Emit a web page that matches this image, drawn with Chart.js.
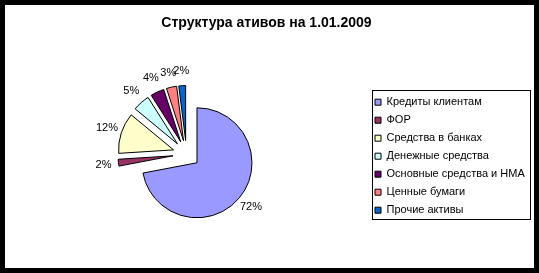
<!DOCTYPE html>
<html><head><meta charset="utf-8">
<script src="https://cdn.jsdelivr.net/npm/chart.js@4"></script>
<style>
html,body{margin:0;padding:0;background:#fff;}
#wrap{position:relative;width:539px;height:273px;overflow:hidden;}
#frame{position:absolute;left:0;top:0;width:539px;height:273px;box-sizing:border-box;border:5px solid #000;pointer-events:none;}
canvas{position:absolute;left:0;top:0;}
</style></head><body>
<div id="wrap"><canvas id="c" width="539" height="273"></canvas><div id="frame"></div></div>
<script>
const chartTitle = 'Структура ативов на 1.01.2009';
const categories = ['Кредиты клиентам', 'ФОР', 'Средства в банках', 'Денежные средства', 'Основные средства и НМА', 'Ценные бумаги', 'Прочие активы'];
const shares = [72, 2, 12, 5, 4, 3, 2];
const sliceColors = ['#9999FF', '#993366', '#FFFFCC', '#CCFFFF', '#660066', '#FF8080', '#0066CC'];

const FONT = '"Liberation Sans", Arial, sans-serif';

const explodePlugin = {
  id: 'explode',
  afterDatasetsUpdate(chart, args, opts) {
    const meta = chart.getDatasetMeta(0);
    const d = opts.distance || 0;
    meta.data.forEach(arc => {
      const mid = (arc.startAngle + arc.endAngle) / 2;
      arc.x = arc.x + Math.cos(mid) * d;
      arc.y = arc.y + Math.sin(mid) * d;
    });
  }
};

const legendShift = {
  id: 'legendShift',
  afterUpdate(chart, args, opts) {
    const lg = chart.legend;
    if (!lg) return;
    lg.top += opts.dy;
    lg.bottom += opts.dy;
    (lg.legendHitBoxes || []).forEach(h => { h.top += opts.dy; });
  }
};

const pctLabels = {
  id: 'pctLabels',
  afterDatasetsDraw(chart, args, opts) {
    const ctx = chart.ctx;
    const meta = chart.getDatasetMeta(0);
    const data = chart.data.datasets[0].data;
    const total = data.reduce((a, b) => a + b, 0);
    ctx.save();
    ctx.font = '11px ' + FONT;
    ctx.fillStyle = '#000';
    ctx.textAlign = 'center';
    ctx.textBaseline = 'middle';
    meta.data.forEach((arc, i) => {
      const mid = (arc.startAngle + arc.endAngle) / 2;
      const r = arc.outerRadius + opts.gap;
      ctx.fillText(Math.round(data[i] / total * 100) + '%', arc.x + Math.cos(mid) * r, arc.y + Math.sin(mid) * r);
    });
    ctx.restore();
  }
};

const legendFrame = {
  id: 'legendFrame',
  afterDraw(chart) {
    const lg = chart.legend;
    if (!lg || !lg.legendHitBoxes || !lg.legendHitBoxes.length) return;
    const hb = lg.legendHitBoxes;
    let l = Infinity, t = Infinity, r = -Infinity, b = -Infinity;
    hb.forEach(h => { l = Math.min(l, h.left); t = Math.min(t, h.top); r = Math.max(r, h.left + h.width); b = Math.max(b, h.top + h.height); });
    const ctx = chart.ctx;
    ctx.save();
    ctx.strokeStyle = '#000';
    ctx.lineWidth = 1;
    ctx.strokeRect(Math.round(l - 3) + 0.5, Math.round(t - 6.5) + 0.5, Math.round(r - l + 8), Math.round(b - t + 10));
    ctx.restore();
  }
};

new Chart(document.getElementById('c'), {
  type: 'pie',
  data: {
    labels: categories,
    datasets: [{
      data: shares,
      backgroundColor: sliceColors,
      borderColor: '#000',
      borderWidth: 1,
      hoverOffset: 0
    }]
  },
  options: {
    responsive: false,
    animation: false,
    events: [],
    radius: 55,
    layout: { padding: { left: 5, right: 11, top: 5, bottom: 5.6 } },
    plugins: {
      title: {
        display: true,
        text: chartTitle,
        color: '#000',
        font: { family: FONT, size: 14, weight: 'bold' },
        padding: { top: 10, bottom: 9 }
      },
      legend: {
        position: 'right',
        maxWidth: 160,
        labels: {
          color: '#000',
          font: { family: FONT, size: 11 },
          boxWidth: 6,
          boxHeight: 6,
          padding: 7
        }
      },
      tooltip: { enabled: false },
      explode: { distance: 13.6 },
      legendShift: { dy: 20 },
      pctLabels: { gap: 15 }
    }
  },
  plugins: [explodePlugin, legendShift, pctLabels, legendFrame]
});
</script>
</body></html>
